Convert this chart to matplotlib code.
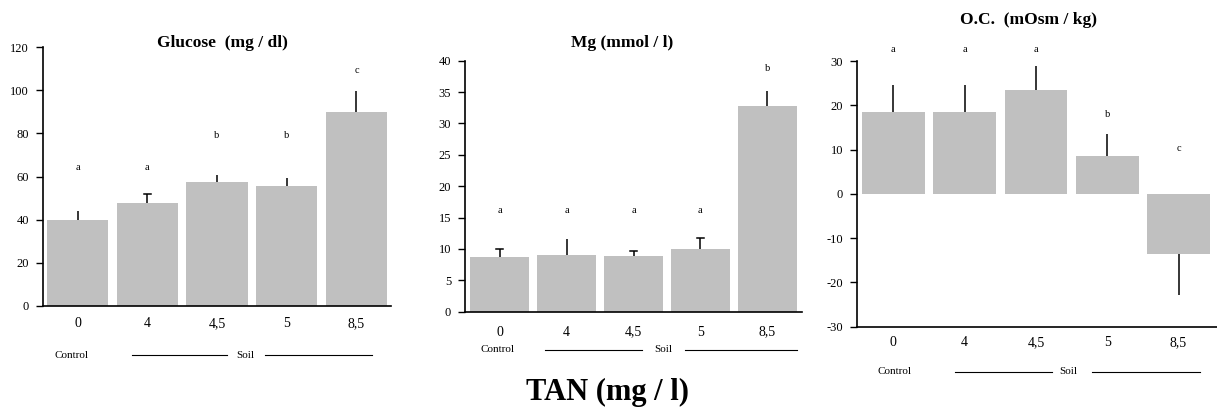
import matplotlib
matplotlib.use("Agg")
import matplotlib.pyplot as plt
from matplotlib.lines import Line2D
import matplotlib.transforms as mtransforms

plt.rcParams['font.family'] = ['Liberation Serif', 'DejaVu Serif']

# TAN concentrations (mg / l)
tan_labels = ["0", "4", "4,5", "5", "8,5"]

# Glucose (mg / dl)
glucose_mean = [40, 47.5, 57.5, 55.7, 90]
glucose_se = [4, 4.5, 3, 3.8, 9.5]
glucose_letters = ["a", "a", "b", "b", "c"]

# Mg (mmol / l)
mg_mean = [8.7, 9.0, 8.9, 10.0, 32.8]
mg_se = [1.3, 2.6, 0.8, 1.75, 2.3]
mg_letters = ["a", "a", "a", "a", "b"]

# Osmotic concentration (mOsm / kg)
oc_mean = [18.4, 18.4, 23.4, 8.5, -13.5]
oc_se = [6.1, 6.1, 5.4, 5.0, 9.4]
oc_letters = ["a", "a", "a", "b", "c"]

W, H = 1217, 412
fig = plt.figure(figsize=(W / 100, H / 100), dpi=100)


def rect(left, top, right, bottom):
    return [left / W, 1 - bottom / H, (right - left) / W, (bottom - top) / H]


def fpos(x, y):
    return x / W, 1 - y / H


BAR_COLOR = "#C0C0C0"


def panel(box, means, ses, letters, letter_y, ylim, yticks, xlim, width,
          caps, xpad, group_y, ctrl_x, line1, soil_x, line2):
    ax = fig.add_axes(rect(*box))
    x = list(range(len(means)))
    ax.bar(x, means, width=width, color=BAR_COLOR, edgecolor="none", zorder=2)
    for xi, m, s, cap in zip(x, means, ses, caps):
        end = m + s if m >= 0 else m - s
        ax.plot([xi, xi], [m, end], color="black", lw=1.1, zorder=3,
                solid_capstyle="butt")
        if cap:
            ax.plot([xi - 0.05, xi + 0.05], [end, end], color="black", lw=1.1,
                    zorder=3)
    for xi, lab, ly in zip(x, letters, letter_y):
        ax.text(xi, ly, lab, ha="center", va="center", fontsize=7.5,
                clip_on=False)
    ax.set_xlim(*xlim)
    ax.set_ylim(*ylim)
    ax.set_yticks(yticks)
    ax.set_yticklabels([str(t) for t in yticks], fontsize=9)
    ax.set_xticks(x)
    ax.set_xticklabels(tan_labels, fontsize=10)
    ax.tick_params(axis="x", length=0, pad=xpad)
    ax.tick_params(axis="y", length=5, width=1, direction="out", pad=5)
    for side in ("top", "right"):
        ax.spines[side].set_visible(False)
    for side in ("left", "bottom"):
        ax.spines[side].set_linewidth(1.2)
    ax.patch.set_alpha(0)

    # Control / Soil group annotation under the tick labels
    trans = mtransforms.blended_transform_factory(
        ax.transData, fig.transFigure)
    gy = 1 - group_y / H
    ax.text(ctrl_x, gy, "Control", transform=trans, ha="center", va="center",
            fontsize=8)
    ax.text(soil_x, gy, "Soil", transform=trans, ha="center", va="center",
            fontsize=8)
    for a, b in (line1, line2):
        fig.add_artist(Line2D([a, b], [gy, gy], transform=trans, color="black",
                              lw=0.8))
    return ax


panel((43, 47, 391, 306), glucose_mean, glucose_se, glucose_letters,
      [64, 64, 79, 79, 109], (0, 120), list(range(0, 121, 20)),
      (-0.495, 4.495), 0.875, [False, True, False, False, False],
      8, 355, -0.08, (0.78, 2.14), 2.4, (2.69, 4.22))

panel((465, 60.7, 802, 311.7), mg_mean, mg_se, mg_letters,
      [16.2, 16.2, 16.2, 16.2, 38.8], (0, 40), list(range(0, 41, 5)),
      (-0.52, 4.52), 0.88, [True, False, True, True, False],
      10, 350, -0.04, (0.67, 2.12), 2.44, (2.77, 4.44))

panel((857, 61, 1217, 326.7), oc_mean, oc_se, oc_letters,
      [32.7, 32.7, 32.7, 17.9, 10.2], (-30, 30), list(range(-30, 31, 10)),
      (-0.51, 4.54), 0.88, [False] * 5,
      7, 372, 0.01, (0.86, 2.22), 2.46, (2.79, 4.3))

# Panel titles
fig.text(*fpos(222, 43), "Glucose  (mg / dl)", ha="center", va="center",
         fontsize=12.5, fontweight="bold")
fig.text(*fpos(622, 43), "Mg (mmol / l)", ha="center", va="center",
         fontsize=12.5, fontweight="bold")
fig.text(*fpos(1029, 20), "O.C.  (mOsm / kg)", ha="center", va="center",
         fontsize=12.5, fontweight="bold")

# Shared x-axis label
fig.text(*fpos(608, 392), "TAN (mg / l)", ha="center", va="center",
         fontsize=22, fontweight="bold")

fig.savefig("out.png", dpi=100)
